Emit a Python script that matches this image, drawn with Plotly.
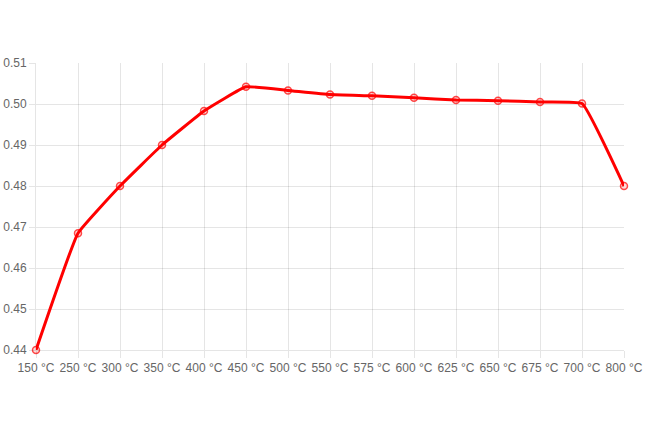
import plotly.graph_objects as go

categories = ["150 °C", "250 °C", "300 °C", "350 °C", "400 °C", "450 °C", "500 °C",
              "550 °C", "575 °C", "600 °C", "625 °C", "650 °C", "675 °C", "700 °C", "800 °C"]
values = [0.440, 0.4685, 0.480, 0.490, 0.4983, 0.5042, 0.5033, 0.5023, 0.5020,
          0.5015, 0.5010, 0.5008, 0.5005, 0.5001, 0.480]
y_ticks = [0.44, 0.45, 0.46, 0.47, 0.48, 0.49, 0.50, 0.51]

grid = "rgba(0,0,0,0.1)"
font_color = "#666666"

fig = go.Figure(go.Scatter(
    x=categories, y=values, mode="lines+markers",
    line=dict(color="#ff0000", width=3, shape="spline", smoothing=0.3),
    marker=dict(size=7, color="rgba(255,0,0,0.15)", line=dict(color="rgba(255,0,0,0.7)", width=1.5)),
    hoverinfo="x+y", cliponaxis=False,
))

fig.update_layout(
    width=645, height=430,
    margin=dict(l=36, r=21, t=63, b=80, autoexpand=False),
    paper_bgcolor="white", plot_bgcolor="white",
    showlegend=False,
    font=dict(family="Arial, Liberation Sans, sans-serif", size=12, color=font_color),
)
fig.update_xaxes(
    type="category", range=[0, len(categories) - 1], automargin=False,
    showgrid=True, gridcolor=grid, gridwidth=1,
    showline=True, linecolor=grid, linewidth=1,
    ticks="outside", ticklen=7, tickcolor=grid,
    tickfont=dict(size=12, color=font_color), zeroline=False,
)
fig.update_yaxes(
    range=[0.44, 0.51], tickvals=y_ticks, tickformat=".2f", automargin=False,
    showgrid=True, gridcolor=grid, gridwidth=1,
    showline=True, linecolor=grid, linewidth=1,
    ticks="outside", ticklen=6, tickcolor=grid,
    tickfont=dict(size=12, color=font_color), zeroline=False,
)

fig.write_html("out.html", config={"displayModeBar": False},
               post_script="document.body.style.margin='0';document.body.style.overflow='hidden';")
